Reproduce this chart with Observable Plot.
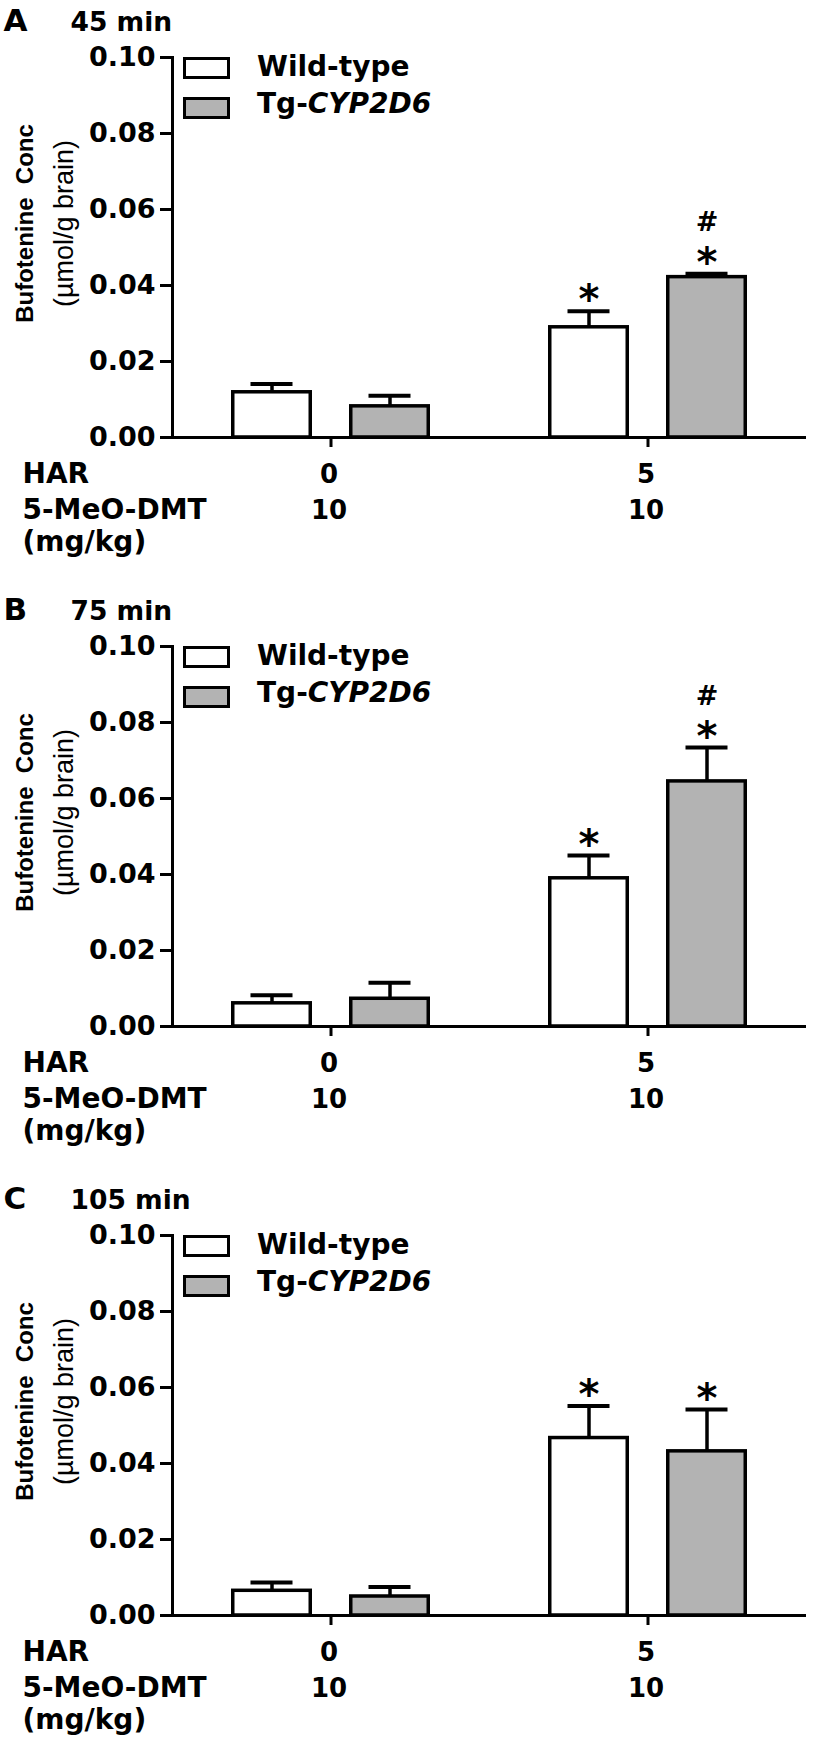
<!DOCTYPE html>
<html><head><meta charset="utf-8">
<script src="https://cdn.jsdelivr.net/npm/d3@7"></script>
<script src="https://cdn.jsdelivr.net/npm/@observablehq/plot@0.6"></script>
<style>
body{margin:0;background:#fff;}
#root{position:relative;width:815px;height:1740px;overflow:hidden;background:#fff}
.panel{position:absolute;left:0;width:815px}
.lg-box{position:absolute;width:47px;height:22px;box-sizing:border-box;border:3px solid #000}
.lg-txt{position:absolute;font-family:"DejaVu Sans";font-weight:bold;font-size:28px;line-height:28px;white-space:nowrap;color:#000}
</style></head><body><div id="root"></div>
<script>
// ---- data ----
const panelLetters = ["A", "B", "C"];
const timePoints = ["45 min", "75 min", "105 min"];
const harDose = ["0", "5"];          // HAR (mg/kg)
const dmtDose = ["10", "10"];        // 5-MeO-DMT (mg/kg)
const genotypes = ["Wild-type", "Tg-CYP2D6"];
const genotypeFill = ["#ffffff", "#b3b3b3"];
const yTicks = [0, 0.02, 0.04, 0.06, 0.08, 0.10];
// order within each panel: [WT HAR0, Tg HAR0, WT HAR5, Tg HAR5]
const meanA = [0.0119, 0.0082, 0.0290, 0.0422];
const semA  = [0.0022, 0.0028, 0.0042, 0.0009];
const starA = ["", "", "*", "*"];
const hashA = ["", "", "", "#"];
const meanB = [0.0061, 0.0073, 0.0390, 0.0645];
const semB  = [0.0021, 0.0042, 0.0060, 0.0089];
const starB = ["", "", "*", "*"];
const hashB = ["", "", "", "#"];
const meanC = [0.0065, 0.0050, 0.0467, 0.0432];
const semC  = [0.0022, 0.0025, 0.0084, 0.0110];
const starC = ["", "", "*", "*"];
const hashC = ["", "", "", ""];

const means = [meanA, meanB, meanC];
const sems = [semA, semB, semC];
const stars = [starA, starB, starC];
const hashes = [hashA, hashB, hashC];

// ---- layout ----
const W = 815, panelStep = 589, frameTop = 57, frameBottom = 437;
const root = document.getElementById("root");

function makePanel(p) {
  const h = p === 2 ? 1740 - 2 * panelStep : 580;
  const rows = harDose.flatMap((g, gi) => genotypes.map((geno, si) => {
    const k = gi * 2 + si;
    return {har: g, geno, si, mean: means[p][k], sem: sems[p][k], star: stars[p][k], hash: hashes[p][k]};
  }));
  const barOffset = 59;
  const seriesMarks = genotypes.flatMap((geno, si) => {
    const d = rows.filter(r => r.geno === geno);
    const dx = (si - 0.5) * 2 * barOffset;
    return [
      Plot.barY(d, {x: "har", y: "mean", fill: "geno", stroke: "black", strokeWidth: 3.5, insetLeft: 119.75, insetRight: 119.75, dx}),
      Plot.ruleX(d, {x: "har", y1: "mean", y2: r => r.mean + r.sem, stroke: "black", strokeWidth: 3.5, dx}),
      Plot.tickY(d, {x: "har", y: r => r.mean + r.sem, stroke: "black", strokeWidth: 4, insetLeft: 137.5, insetRight: 137.5, dx}),
      Plot.text(d.filter(r => r.star), {x: "har", y: r => r.mean + r.sem, text: "star", dx, dy: 2, lineAnchor: "bottom", fontSize: 40, fontFamily: "DejaVu Sans", fontWeight: "bold"}),
      Plot.text(d.filter(r => r.hash), {x: "har", y: r => r.mean + r.sem, text: "hash", dx, dy: -43, lineAnchor: "bottom", fontSize: 27, fontFamily: "DejaVu Sans", fontWeight: "bold"})
    ];
  });
  const chart = Plot.plot({
    width: W,
    height: h,
    marginLeft: 172,
    marginRight: 9,
    marginTop: frameTop,
    marginBottom: h - frameBottom,
    style: {fontFamily: "DejaVu Sans", fontWeight: "bold", fontSize: "26px", color: "black", background: "white", overflow: "visible"},
    x: {type: "band", domain: harDose, padding: 0, label: null},
    y: {domain: [0, 0.1], label: null},
    color: {domain: genotypes, range: genotypeFill},
    marks: [
      ...seriesMarks,
      Plot.ruleY([0], {stroke: "black", strokeWidth: 3}),
      Plot.frame({anchor: "left", stroke: "black", strokeWidth: 3}),
      Plot.axisY({ticks: yTicks, tickFormat: d3.format(".2f"), tickSize: 12, tickPadding: 5, strokeWidth: 3, fontSize: 27, fontWeight: "bold", label: null}),
      Plot.axisX({tickSize: 10, strokeWidth: 3, tickFormat: () => "", label: null}),
      // group labels
      Plot.text(harDose, {x: d => d, text: d => d, frameAnchor: "bottom", lineAnchor: "bottom", dy: 45, dx: -2, fontSize: 26}),
      Plot.text(dmtDose, {x: (d, i) => harDose[i], text: d => d, frameAnchor: "bottom", lineAnchor: "bottom", dy: 81, dx: -2, fontSize: 26}),
      // row labels
      Plot.text(["HAR"], {frameAnchor: "bottom-left", textAnchor: "start", lineAnchor: "bottom", dx: -150, dy: 45, fontSize: 28}),
      Plot.text(["5-MeO-DMT"], {frameAnchor: "bottom-left", textAnchor: "start", lineAnchor: "bottom", dx: -150, dy: 81, fontSize: 28}),
      Plot.text(["(mg/kg)"], {frameAnchor: "bottom-left", textAnchor: "start", lineAnchor: "bottom", dx: -150, dy: 113, fontSize: 28}),
      // y label
      Plot.text(["Bufotenine\u00a0\u00a0Conc"], {frameAnchor: "left", rotate: -90, dx: -147, dy: -24, lineAnchor: "middle", textAnchor: "middle", fontFamily: "Liberation Sans", fontWeight: "bold", fontSize: 24}),
      Plot.text(["(\u00b5mol/g brain)"], {frameAnchor: "left", rotate: -90, dx: -108, dy: -24, lineAnchor: "middle", textAnchor: "middle", fontFamily: "Liberation Sans", fontWeight: "normal", fontSize: 27}),
      // titles
      Plot.text([panelLetters[p]], {frameAnchor: "top-left", textAnchor: "start", lineAnchor: "bottom", dx: -169, dy: -27, fontSize: 31}),
      Plot.text([timePoints[p]], {frameAnchor: "top-left", textAnchor: "start", lineAnchor: "bottom", dx: -102, dy: -27, fontSize: 26.5})
    ]
  });
  const div = document.createElement("div");
  div.className = "panel";
  div.style.top = (p * panelStep) + "px";
  div.style.height = h + "px";
  div.appendChild(chart);
  // legend (HTML, placed over the plot)
  genotypes.forEach((g, i) => {
    const box = document.createElement("div");
    box.className = "lg-box";
    box.style.left = "183px";
    box.style.top = (57 + i * 40) + "px";
    box.style.background = genotypeFill[i];
    div.appendChild(box);
    const t = document.createElement("div");
    t.className = "lg-txt";
    t.style.left = "257px";
    t.style.top = (53 + i * 37) + "px";
    if (g.startsWith("Tg-")) {
      t.innerHTML = "Tg-<i>" + g.slice(3) + "</i>";
    } else {
      t.textContent = g;
    }
    div.appendChild(t);
  });
  root.appendChild(div);
}
[0, 1, 2].forEach(makePanel);
</script>
</body></html>
